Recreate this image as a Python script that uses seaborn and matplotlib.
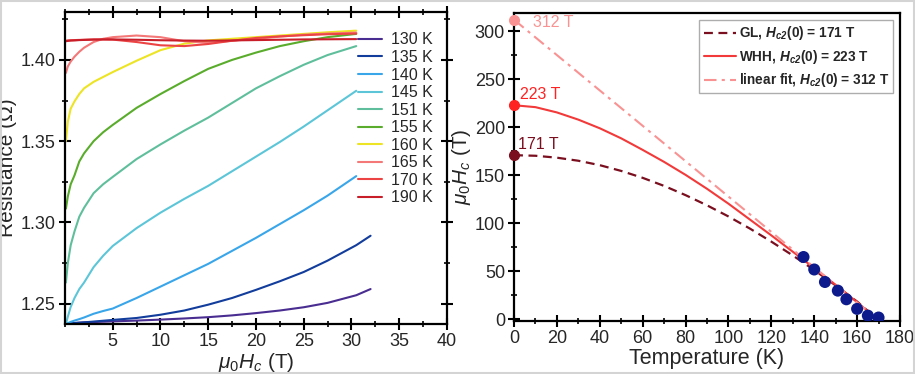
import matplotlib
matplotlib.use('Agg')
import matplotlib.pyplot as plt
from matplotlib.patches import Rectangle
from matplotlib.ticker import MultipleLocator, FixedLocator, FormatStrFormatter
import seaborn as sns

sns.set_style('ticks')
plt.rcParams['font.family'] = ['Liberation Sans', 'DejaVu Sans']
plt.rcParams['mathtext.fontset'] = 'custom'
plt.rcParams['mathtext.rm'] = 'Liberation Sans'
plt.rcParams['mathtext.it'] = 'Liberation Sans:italic'
plt.rcParams['mathtext.bf'] = 'Liberation Sans:bold'
plt.rcParams['mathtext.bfit'] = 'Liberation Sans:italic:bold'

# ---- left panel: R(H) curves ----
field = [0.1, 0.3, 0.6, 1, 1.5, 2, 3, 4, 5, 7.5, 10, 12.5, 15, 17.5, 20, 22.5, 25, 27.5, 30.5]
field_long = field + [32]

r130 = [1.2375, 1.2377, 1.2379, 1.2381, 1.2383, 1.2385, 1.2387, 1.2389, 1.2391, 1.2396,
        1.2402, 1.2409, 1.2417, 1.2428, 1.2442, 1.2458, 1.2478, 1.2505, 1.2552, 1.2590]
r135 = [1.2375, 1.2377, 1.2379, 1.2381, 1.2383, 1.2385, 1.2390, 1.2395, 1.2400, 1.2412,
        1.2432, 1.2458, 1.2494, 1.2535, 1.2585, 1.2638, 1.2695, 1.2765, 1.2860, 1.2918]
r140 = [1.2375, 1.2380, 1.2388, 1.2396, 1.2405, 1.2415, 1.2438, 1.2455, 1.2470, 1.2535,
        1.2605, 1.2675, 1.2745, 1.2825, 1.2905, 1.2990, 1.3075, 1.3165, 1.3285]
r145 = [1.2375, 1.2420, 1.2480, 1.2535, 1.2590, 1.2630, 1.2725, 1.2795, 1.2855, 1.2965,
        1.3060, 1.3145, 1.3225, 1.3315, 1.3405, 1.3495, 1.3590, 1.3690, 1.3810]
r151 = [1.2630, 1.2750, 1.2860, 1.2945, 1.3035, 1.3090, 1.3180, 1.3235, 1.3280, 1.3390,
        1.3480, 1.3565, 1.3645, 1.3735, 1.3825, 1.3900, 1.3970, 1.4030, 1.4085]
r155 = [1.3085, 1.3160, 1.3235, 1.3290, 1.3375, 1.3425, 1.3500, 1.3555, 1.3600, 1.3705,
        1.3790, 1.3870, 1.3945, 1.4000, 1.4045, 1.4085, 1.4115, 1.4140, 1.4160]
r160 = [1.3500, 1.3620, 1.3700, 1.3745, 1.3790, 1.3825, 1.3865, 1.3895, 1.3925, 1.3995,
        1.4060, 1.4100, 1.4120, 1.4130, 1.4140, 1.4150, 1.4160, 1.4170, 1.4180]
r165 = [1.3920, 1.3960, 1.3990, 1.4020, 1.4050, 1.4075, 1.4110, 1.4130, 1.4140, 1.4150,
        1.4140, 1.4115, 1.4105, 1.4118, 1.4130, 1.4143, 1.4155, 1.4162, 1.4168]
r170 = [1.4118, 1.4120, 1.4121, 1.4122, 1.4123, 1.4124, 1.4126, 1.4126, 1.4125, 1.4110,
        1.4090, 1.4085, 1.4098, 1.4118, 1.4135, 1.4145, 1.4152, 1.4158, 1.4162]
r190 = [1.4115, 1.4117, 1.4119, 1.4120, 1.4122, 1.4123, 1.4125, 1.4126, 1.4126, 1.4124,
        1.4121, 1.4119, 1.4118, 1.4120, 1.4122, 1.4124, 1.4126, 1.4127, 1.4128]

labels = ['130 K', '135 K', '140 K', '145 K', '151 K', '155 K', '160 K', '165 K', '170 K', '190 K']
colors = ['#4a2d91', '#123d9c', '#3aa6ea', '#5cc6d8', '#5fbf9c', '#5aac2c',
          '#ece424', '#f47878', '#ec4444', '#c81e2a']
curves = [(field_long, r130), (field_long, r135), (field, r140), (field, r145), (field, r151),
          (field, r155), (field, r160), (field, r165), (field, r170), (field, r190)]

# ---- right panel: Hc(T) ----
t_data = [135, 140, 145, 151, 155, 160, 165, 170]
h_data = [65, 52, 39, 30, 21, 11, 4, 2]

t_fit = [0, 10, 20, 30, 40, 50, 60, 70, 80, 90, 100, 110, 120, 130, 140, 150, 160, 169.5]
h_gl = [171, 170.4, 168.4, 165.2, 160.6, 154.6, 147.4, 139, 129.4, 118.8, 107.2, 94.6,
        81, 66.6, 51.4, 35.4, 18.6, 0]
h_whh = [223, 221, 215.5, 208, 199, 188.5, 176.5, 164, 150.5, 136, 120.5, 104,
         87.5, 70.5, 53.5, 36, 18, 0]
t_lin = [0, 169.5]
h_lin = [312, 0]

c_gl, c_whh, c_lin = '#7a0f1f', '#f23a3a', '#f99393'

fig, (ax1, ax2) = plt.subplots(1, 2, figsize=(9.15, 3.74), dpi=100)
ax1.set_position([0.071, 0.1337, 0.4175, 0.8343])
ax2.set_position([0.5618, 0.142, 0.4218, 0.8232])
# light grey frame round the whole picture
fig.add_artist(Rectangle((0.001, 0.002), 0.998, 0.996, transform=fig.transFigure,
                         fill=False, edgecolor='#d4d4d4', lw=1.5))

for (x, y), lab, col in zip(curves, labels, colors):
    sns.lineplot(x=x, y=y, ax=ax1, color=col, lw=1.5, label=lab)

ax1.set_xlim(0, 40)
ax1.set_ylim(1.2375, 1.4295)
ax1.xaxis.set_major_locator(FixedLocator([5, 10, 15, 20, 25, 30, 35, 40]))
ax1.xaxis.set_minor_locator(MultipleLocator(2.5))
ax1.yaxis.set_major_locator(FixedLocator([1.25, 1.30, 1.35, 1.40]))
ax1.yaxis.set_minor_locator(MultipleLocator(0.025))
ax1.yaxis.set_major_formatter(FormatStrFormatter('%.2f'))
ax1.set_xlabel(r'$\mu_0H_c$ (T)', fontsize=15, labelpad=1)
ax1.set_ylabel('Resistance (Ω)', fontsize=15, labelpad=3)
ax1.legend(loc='upper right', bbox_to_anchor=(0.985, 0.96), frameon=False, fontsize=11.5,
           labelspacing=0.16, handlelength=1.5, handletextpad=0.6, borderpad=0)

sns.lineplot(x=t_fit, y=h_gl, ax=ax2, color=c_gl, lw=1.6, linestyle=(0, (4, 2.5)),
             label=r'GL, $\mathbfit{H}_{\mathbfit{c2}}$(0) = 171 T')
sns.lineplot(x=t_fit, y=h_whh, ax=ax2, color=c_whh, lw=1.5,
             label=r'WHH, $\mathbfit{H}_{\mathbfit{c2}}$(0) = 223 T')
sns.lineplot(x=t_lin, y=h_lin, ax=ax2, color=c_lin, lw=1.5, linestyle=(0, (6, 2.5, 1.5, 2.5)),
             label=r'linear fit, $\mathbfit{H}_{\mathbfit{c2}}$(0) = 312 T')
sns.scatterplot(x=t_data, y=h_data, ax=ax2, color='#0c1a8c', s=75, edgecolor='none', zorder=5)

for h, col, txt, dx, dy in [(312, c_lin, '312 T', 9, -3), (223, '#ff2222', '223 T', 3, 11),
                            (171, c_gl, '171 T', 2, 11)]:
    ax2.plot([0], [h], 'o', color=col, ms=7, clip_on=False, zorder=6)
    ax2.text(dx, h + dy, txt, color=col, fontsize=11.5, va='center', ha='left')

ax2.set_xlim(0, 180)
ax2.set_ylim(-1.5, 319)
ax2.xaxis.set_major_locator(MultipleLocator(20))
ax2.xaxis.set_minor_locator(MultipleLocator(10))
ax2.yaxis.set_major_locator(MultipleLocator(50))
ax2.yaxis.set_minor_locator(MultipleLocator(25))
ax2.set_xlabel('Temperature (K)', fontsize=15.5, labelpad=1)
ax2.set_ylabel(r'$\mu_0H_c$ (T)', fontsize=15, labelpad=1)
leg = ax2.legend(loc='upper right', bbox_to_anchor=(0.99, 0.985), fancybox=False,
                 edgecolor='#999999', fontsize=9.8, labelspacing=0.4, handlelength=2.4,
                 handletextpad=0.2, borderpad=0.3, borderaxespad=0.2)
leg.get_frame().set_linewidth(1)
for t in leg.get_texts():
    t.set_fontweight('bold')

for ax in (ax1, ax2):
    for s in ax.spines.values():
        s.set_linewidth(1.6)
        s.set_edgecolor('black')
    ax.tick_params(which='major', direction='inout', length=9, width=1.5, color='black',
                   labelsize=13, pad=2)
    ax.tick_params(which='minor', direction='inout', length=5, width=1.2, color='black')

ax1.tick_params(which='both', top=True, right=True)

fig.savefig('out.png', dpi=100)
